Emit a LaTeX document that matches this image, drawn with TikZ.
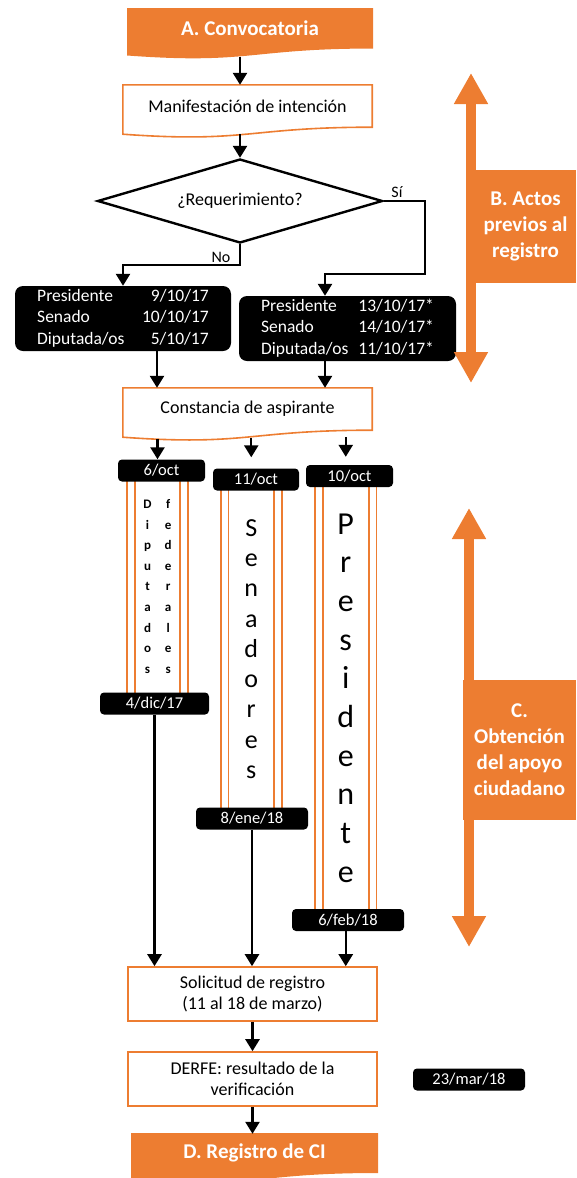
\documentclass[tikz,border=0pt]{standalone}
\usepackage{fontspec}
\setmainfont{Carlito}
\usetikzlibrary{arrows.meta, shapes.geometric, positioning, backgrounds, calc}
\definecolor{accent-warm}{HTML}{ED7D31}
\definecolor{ink}{HTML}{000000}

\begin{document}
\begin{tikzpicture}[
    x=1pt, y=-1pt,
    font=\fontsize{18}{22}\selectfont,
    >={Triangle[width=14pt,length=12pt]},
    docbox/.style={rectangle, inner sep=0pt, minimum width=249pt, minimum height=42pt},
    headbox/.style={docbox, text=white, font=\fontsize{21}{25}\selectfont\bfseries},
    stepbox/.style={
        rectangle, draw=accent-warm, line width=1.6pt, fill=white,
        inner sep=0pt, minimum width=249pt, minimum height=54pt,
        align=center, font=\fontsize{18}{21.5}\selectfont,
    },
    decision/.style={
        diamond, draw=ink, line width=2.4pt, inner sep=0pt,
        aspect=3.4, minimum width=285pt, minimum height=84pt,
    },
    datebox/.style={
        rectangle, rounded corners=8pt, fill=ink, text=white,
        inner sep=0pt, minimum height=65pt,
        font=\fontsize{17.5}{21.5}\selectfont,
    },
    datetag/.style={
        rectangle, rounded corners=4pt, fill=ink, text=white,
        inner sep=0pt, minimum height=22pt,
        font=\fontsize{16.5}{20}\selectfont,
    },
    stackcol/.style={
        rectangle, draw=accent-warm, line width=1.8pt,
        double=white, double distance=6pt,
        inner sep=0pt, minimum width=53.5pt, align=center,
    },
    phasetag/.style={
        rectangle, fill=accent-warm, text=white, inner sep=0pt,
        align=center, font=\fontsize{21}{26}\selectfont\bfseries,
    },
    phasearrow/.style={
        {Triangle[width=32pt,length=31pt]}-{Triangle[width=32pt,length=31pt]},
        line width=10pt, accent-warm,
    },
    flow/.style={->, line width=2.4pt, ink},
    branchlabel/.style={font=\fontsize{16}{19}\selectfont, inner sep=0pt},
]
\useasboundingbox (0,0) rectangle (576,1178);

% =====================================================================
% A. CONVOCATORIA -> MANIFESTACION -> REQUERIMIENTO
% =====================================================================

\node[headbox, minimum width=244pt, minimum height=38.5pt] (conv) at (250, 28.3) {A. Convocatoria};
\node[docbox] (manif) at (247.5, 106) {Manifestación de intención};
\node[decision] (req) at (240, 201) {¿Requerimiento?};

\draw[flow] ([yshift=-9pt]conv.south -| req.north) -- (manif.north -| req.north);
\draw[flow] ([yshift=-7pt]manif.south -| req.north) -- (req.north);

% fechas segun la respuesta
\node[datebox, minimum width=216pt] (fechasno) at (123, 318.5) {%
    \begin{tabular}{@{}l@{\hspace{17.5pt}}r@{}}
        Presidente & 9/10/17\\
        Senado & 10/10/17\\
        Diputada/os & 5/10/17
    \end{tabular}};
\node[datebox, minimum width=217pt] (fechassi) at (347.5, 328.5) {%
    \begin{tabular}{@{}l@{\hspace{10pt}}l@{}}
        Presidente & 13/10/17*\\
        Senado & 14/10/17*\\
        Diputada/os & 11/10/17*
    \end{tabular}};

\coordinate (nocorner) at (240, 265);
\coordinate (sicorner) at (425, 274);
\coordinate (sidrop)   at (325, 274);

\draw[flow] (req.south) -- (nocorner) -| (fechasno.north);
\draw[flow] (req.east) -| (sicorner) -- (sidrop) -- (sidrop |- fechassi.north);
\node[branchlabel] (nolabel) at (221, 257) {No};
\node[branchlabel] (silabel) at (397, 192) {Sí};

% =====================================================================
% CONSTANCIA DE ASPIRANTE y columnas del apoyo ciudadano
% =====================================================================

\node[docbox] (const) at (247.5, 409) {Constancia de aspirante};

\draw[flow] ([xshift=34pt]fechasno.south) -- ([xshift=34pt]fechasno.south |- const.north);
\draw[flow] (sidrop |- fechassi.south) -- (sidrop |- const.north);

\node[stackcol, minimum height=233pt] (coldip) at (157.5, 586.75) {%
    \fontsize{13}{20.6}\selectfont\bfseries
    \begin{tabular}{@{}c@{\hspace{13pt}}c@{}}
        D & f\\ i & e\\ p & d\\ u & e\\ t & r\\ a & a\\ d & l\\ o & e\\ s & s
    \end{tabular}};
\node[stackcol, minimum height=339pt, font=\fontsize{26}{30.25}\selectfont] (colsen) at (251.25, 649) {%
    S\\e\\n\\a\\d\\o\\r\\e\\s};
\node[stackcol, minimum height=444pt, font=\fontsize{32}{38.7}\selectfont] (colpres) at (345.75, 698) {%
    P\\r\\e\\s\\i\\d\\e\\n\\t\\e};

\node[datetag, minimum width=87pt]  (oct6)  at (161.5, 470.5) {6/oct};
\node[datetag, minimum width=86pt]  (oct11) at (256, 479.5)   {11/oct};
\node[datetag, minimum width=87pt]  (oct10) at (349.5, 476)   {10/oct};
\node[datetag, minimum width=109pt] (dic4)  at (154.5, 703.5) {4/dic/17};
\node[datetag, minimum width=112pt] (ene8)  at (252, 818.5)   {8/ene/18};
\node[datetag, minimum width=112pt] (feb6)  at (348, 920)     {6/feb/18};

\draw[flow] ([yshift=-9pt]const.south -| coldip.north) -- (oct6.north -| coldip.north);
\draw[flow] ([yshift=-8pt]const.south -| colsen.north) -- ([yshift=11pt]oct11.north -| colsen.north);
\draw[flow] ([yshift=-7pt]const.south -| colpres.north) -- ([yshift=8pt]oct10.north -| colpres.north);

% =====================================================================
% SOLICITUD, VERIFICACION y D. REGISTRO
% =====================================================================

\node[stepbox] (solic) at (252.5, 994)  {Solicitud de registro\\(11 al 18 de marzo)};
\node[stepbox] (derfe) at (252.5, 1079) {DERFE: resultado de la\\verificación};
\node[headbox, minimum width=245pt, minimum height=38pt] (regci) at (254.5, 1153) {D. Registro de CI};
\node[datetag, minimum width=112pt] (mar23) at (469, 1079.5) {23/mar/18};

\draw[flow] (dic4.south) -- (dic4.south |- solic.north);
\draw[flow] (ene8.south) -- (ene8.south |- solic.north);
\draw[flow] (colpres |- feb6.south) -- (colpres |- solic.north);
\draw[flow] (solic.south) -- (derfe.north);
\draw[flow] (derfe.south) -- (derfe.south |- regci.north);

% wavy "document" outlines behind the text nodes
\begin{scope}[on background layer]
    \foreach \n/\f in {conv/accent-warm, manif/white, const/white, regci/accent-warm}
        \filldraw[fill=\f, draw=accent-warm, line width=1.6pt]
            (\n.north west) -- (\n.north east) -- (\n.south east)
            .. controls (\n.south) and ([yshift=-16pt]\n.south) .. ([yshift=-7pt]\n.south west)
            -- cycle;
\end{scope}

% =====================================================================
% FASES B y C (flechas laterales)
% =====================================================================

\coordinate (btop) at (471, 73);
\coordinate (bbot) at (471, 383);
\draw[phasearrow] (btop) -- (bbot);
\node[phasetag, minimum width=101pt, minimum height=113pt] (actos) at (525.5, 226.5)
    {B. Actos\\previos al\\registro};

\coordinate (ctop) at (469, 508);
\coordinate (cbot) at (469, 947);
\draw[phasearrow] (ctop) -- (cbot);
\node[phasetag, minimum width=113pt, minimum height=140pt] (apoyo) at (519.5, 750)
    {C.\\Obtención\\del apoyo\\ciudadano};

\end{tikzpicture}
\end{document}
